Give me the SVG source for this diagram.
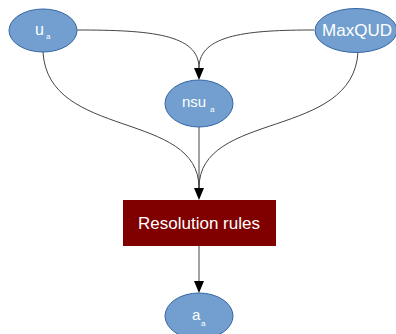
<svg xmlns="http://www.w3.org/2000/svg" width="396" height="334" viewBox="0 0 396 334">
<defs>
<marker id="arr" viewBox="0 0 10 12" refX="5" refY="12" markerWidth="10" markerHeight="12" markerUnits="userSpaceOnUse" orient="auto-start-reverse">
<path d="M0,0 L10,0 L5,12 Z" fill="#000"/>
</marker>
<style>
.n{fill:#729fcf;stroke:#3465a4;stroke-width:1}
.t{font-family:"Liberation Sans",Arial,sans-serif;fill:#fff}
.c{fill:none;stroke:#444;stroke-width:1}
</style>
</defs>
<rect width="396" height="334" fill="#fff"/>
<g id="connectors">
<path class="c" d="M77,30 C150,30 199,34 199,68"/>
<path d="M194,68 L204,68 L199,80 Z" fill="#000"/>
<path class="c" d="M314,30 C250,30 199,34 199,68"/>
<path class="c" d="M43,52 C48,140 199,110 199,188"/>
<path class="c" d="M358,52 C353,140 199,110 199,188"/>
<path class="c" d="M199,127 L199,188"/>
<path d="M194,188 L204,188 L199,200 Z" fill="#000"/>
<path class="c" d="M199,246 L199,281"/>
<path d="M194,281 L204,281 L199,293 Z" fill="#000"/>
</g>
<g id="ua">
<ellipse class="n" cx="43" cy="30.5" rx="34" ry="21.5"/>
<text class="t" x="35" y="34.5" font-size="16">u</text>
<text class="t" x="46" y="39" font-size="8">a</text>
</g>
<g id="maxqud">
<ellipse class="n" cx="356" cy="30.5" rx="41" ry="22"/>
<text class="t" x="357" y="36" font-size="17" text-anchor="middle">MaxQUD</text>
</g>
<g id="nsua">
<ellipse class="n" cx="199" cy="103.5" rx="34" ry="23.5"/>
<text class="t" x="182" y="107" font-size="15">nsu</text>
<text class="t" x="210" y="112" font-size="8">a</text>
</g>
<g id="resolution">
<rect x="123" y="200" width="153" height="46" fill="#800000"/>
<text class="t" x="199" y="229" font-size="17" text-anchor="middle">Resolution rules</text>
</g>
<g id="aa">
<ellipse class="n" cx="199" cy="316" rx="34" ry="23"/>
<text class="t" x="192" y="320" font-size="15">a</text>
<text class="t" x="201" y="326" font-size="8">a</text>
</g>
</svg>
